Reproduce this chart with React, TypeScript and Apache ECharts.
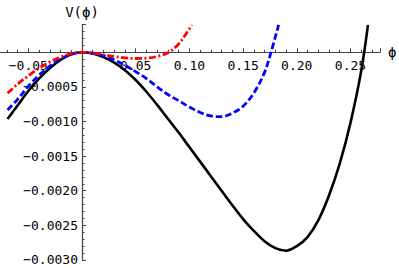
import React, { useEffect, useRef } from "react";
import * as echarts from "echarts";

// Black solid curve
const blackPhi = [-0.0693, -0.06, -0.05, -0.04, -0.03, -0.02, -0.01, 0, 0.01, 0.02, 0.03, 0.04, 0.05, 0.06, 0.07, 0.08, 0.09, 0.1, 0.11, 0.12, 0.13, 0.14, 0.15, 0.16, 0.17, 0.18, 0.19, 0.2, 0.21, 0.22, 0.23, 0.24, 0.25, 0.26, 0.2663];
const blackV = [-0.000964, -0.00077, -0.00056, -0.00038, -0.00023, -0.00011, -0.00003, 0, -0.000017, -0.00007, -0.00015, -0.00026, -0.0004, -0.00057, -0.00076, -0.00096, -0.00116, -0.00137, -0.00158, -0.00179, -0.002, -0.00221, -0.00241, -0.00258, -0.00273, -0.00283, -0.002867, -0.0028, -0.00267, -0.00243, -0.00207, -0.00161, -0.00102, -0.00027, 0.000395];

// Blue dashed curve
const bluePhi = [-0.0693, -0.06, -0.05, -0.04, -0.03, -0.02, -0.01, 0, 0.01, 0.02, 0.03, 0.04, 0.05, 0.06, 0.07, 0.08, 0.09, 0.1, 0.11, 0.12, 0.13, 0.14, 0.15, 0.16, 0.17, 0.176, 0.1831];
const blueV = [-0.000834, -0.00068, -0.00049, -0.00033, -0.0002, -0.0001, -0.00003, 0, -0.000015, -0.00005, -0.00011, -0.00019, -0.00028, -0.00038, -0.0005, -0.00061, -0.0007, -0.00079, -0.00087, -0.00092, -0.00093, -0.00088, -0.00078, -0.00059, -0.00029, 0, 0.000395];

// Red dash-dot curve
const redPhi = [-0.0693, -0.06, -0.05, -0.04, -0.03, -0.02, -0.01, 0, 0.01, 0.02, 0.03, 0.04, 0.05, 0.06, 0.07, 0.08, 0.09, 0.1, 0.1024];
const redV = [-0.000592, -0.00046, -0.00034, -0.00023, -0.00014, -0.00007, -0.00002, 0, -0.00001, -0.000035, -0.00006, -0.00008, -0.00009, -0.000085, -0.00006, -0.000008, 0.00012, 0.00034, 0.000395];

const xMin = -0.1;
const xMax = 0.2775;
const xStep = 0.05;
const yMin = -0.003;
const yMax = 0.0004;
const yStep = 0.0005;

const zip = (xs: number[], ys: number[]) => xs.map((x, i) => [x, ys[i]]);

const MONO = "DejaVu Sans Mono";
const AXIS_COLOR = "#444";

// grid geometry (pixels)
const GRID_LEFT = -25.4;
const GRID_RIGHT = 19;
const GRID_TOP = 24.6;
const GRID_BOTTOM = 9.1;
const W = 399;
const H = 269;

export default function App() {
  const ref = useRef<HTMLDivElement>(null);
  useEffect(() => {
    if (!ref.current) return;
    const chart = echarts.init(ref.current, undefined, { renderer: "svg" });
    const plotW = W - GRID_LEFT - GRID_RIGHT;
    const plotH = H - GRID_TOP - GRID_BOTTOM;
    const zeroX = GRID_LEFT + ((0 - xMin) / (xMax - xMin)) * plotW;
    const zeroY = GRID_TOP + ((yMax - 0) / (yMax - yMin)) * plotH;
    const xOffset = -(H - GRID_BOTTOM - zeroY);
    const yOffset = -(zeroX - GRID_LEFT);
    chart.setOption({
      animation: false,
      backgroundColor: "#fff",
      grid: {
        left: GRID_LEFT,
        right: GRID_RIGHT,
        top: GRID_TOP,
        bottom: GRID_BOTTOM,
        containLabel: false,
        outerBoundsMode: "none",
      },
      xAxis: {
        type: "value",
        position: "bottom",
        offset: xOffset,
        min: xMin,
        max: xMax,
        interval: xStep,
        name: "ϕ",
        nameLocation: "end",
        nameGap: 8,
        nameTextStyle: { fontFamily: MONO, fontSize: 14, color: "#000" },
        axisLine: { onZero: false, lineStyle: { color: AXIS_COLOR, width: 1.2 } },
        axisTick: { show: true, inside: true, length: 4, lineStyle: { color: AXIS_COLOR, width: 1 } },
        minorTick: { show: true, splitNumber: 5, length: 2.5, lineStyle: { color: AXIS_COLOR, width: 1 } },
        splitLine: { show: false },
        minorSplitLine: { show: false },
        axisLabel: {
          showMaxLabel: false,
          showMinLabel: false,
          margin: 7,
          fontFamily: MONO,
          fontSize: 13,
          color: "#000",
          formatter: (v: number) => {
            if (Math.abs(v) < 1e-9) return "";
            if (Math.abs(Math.round(v / xStep) * xStep - v) > 1e-6) return "";
            return (v < 0 ? "\u2212" : "") + Math.abs(v).toFixed(2);
          },
        },
      },
      yAxis: {
        type: "value",
        position: "left",
        offset: yOffset,
        min: yMin,
        max: yMax,
        interval: yStep,
        name: "V(ϕ)",
        nameLocation: "end",
        nameGap: 6,
        nameTextStyle: { fontFamily: MONO, fontSize: 14, color: "#000", align: "center" },
        axisLine: { onZero: false, lineStyle: { color: AXIS_COLOR, width: 1.2 } },
        axisTick: { show: true, inside: true, length: 4, lineStyle: { color: AXIS_COLOR, width: 1 } },
        minorTick: { show: true, splitNumber: 5, length: 2.5, lineStyle: { color: AXIS_COLOR, width: 1 } },
        splitLine: { show: false },
        minorSplitLine: { show: false },
        axisLabel: {
          margin: 4,
          fontFamily: MONO,
          fontSize: 13,
          color: "#000",
          formatter: (v: number) => {
            if (v > -1e-9) return "";
            return "\u2212" + Math.abs(v).toFixed(4);
          },
        },
      },
      series: [
        {
          type: "line",
          data: zip(blackPhi, blackV),
          smooth: 0.35,
          showSymbol: false,
          lineStyle: { color: "#000", width: 2.6 },
        },
        {
          type: "line",
          data: zip(bluePhi, blueV),
          smooth: 0.35,
          showSymbol: false,
          lineStyle: { color: "#0000ff", width: 2.8, type: [6.5, 3] },
        },
        {
          type: "line",
          data: zip(redPhi, redV),
          smooth: 0.35,
          showSymbol: false,
          lineStyle: { color: "#ff0000", width: 2.8, type: [7, 2.5, 2, 2.5] },
        },
      ],
    });
    return () => chart.dispose();
  }, []);
  return (
    <div
      ref={ref}
      style={{ position: "absolute", left: 0, top: 0, width: W, height: H, background: "#fff" }}
    />
  );
}
